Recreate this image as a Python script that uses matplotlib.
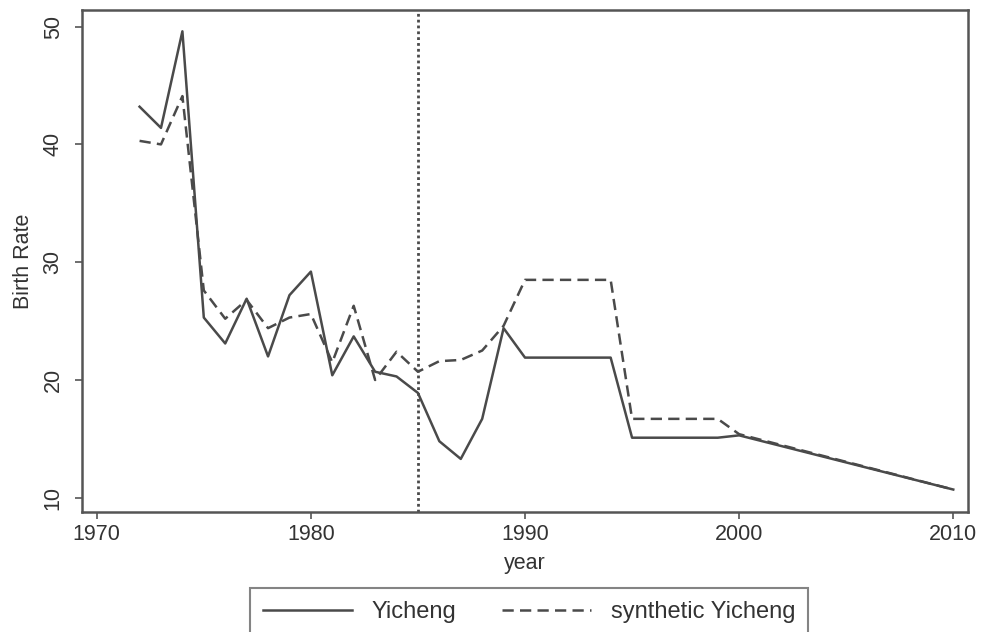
#!/usr/bin/env python3
"""Synthetic control plot: Yicheng birth rate vs synthetic Yicheng."""

import matplotlib
matplotlib.use("Agg")
import matplotlib.pyplot as plt

# ── data ─────────────────────────────────────────────────────────────────────
years_real = [1972, 1973, 1974, 1975, 1976, 1977, 1978, 1979, 1980, 1981,
              1982, 1983, 1984, 1985, 1986, 1987, 1988, 1989, 1990, 1991,
              1992, 1993, 1994, 1995, 1996, 1997, 1998, 1999, 2000, 2010]
yicheng = [43.2, 41.4, 49.6, 25.3, 23.1, 26.9, 22.0, 27.2, 29.2, 20.4,
           23.7, 20.7, 20.3, 18.9, 14.8, 13.3, 16.7, 24.4, 21.9, 21.9,
           21.9, 21.9, 21.9, 15.1, 15.1, 15.1, 15.1, 15.1, 15.3, 10.7]

years_synth = [1972, 1973, 1974, 1975, 1976, 1977, 1978, 1979, 1980, 1981,
               1982, 1983, 1984, 1985, 1986, 1987, 1988, 1989, 1990, 1991,
               1992, 1993, 1994, 1995, 1996, 1997, 1998, 1999, 2000, 2010]
synthetic = [40.3, 40.0, 44.1, 27.6, 25.2, 26.8, 24.4, 25.3, 25.6, 21.5,
             26.3, 20.0, 22.4, 20.7, 21.6, 21.7, 22.5, 24.6, 28.5, 28.5,
             28.5, 28.5, 28.5, 16.7, 16.7, 16.7, 16.7, 16.7, 15.4, 10.7]

treat_year = 1985
xticks = [1970, 1980, 1990, 2000, 2010]
yticks = [10, 20, 30, 40, 50]

LINE = "#4a4a4a"
FRAME = "#555555"
TEXT = "#333333"

plt.rcParams["font.family"] = ["Liberation Sans", "DejaVu Sans"]

fig = plt.figure(figsize=(9.85, 6.32), dpi=100)
ax = fig.add_axes([0.083, 0.19, 0.9, 0.794])

ax.plot(years_real, yicheng, color=LINE, linewidth=1.8, label="Yicheng")
ax.plot(years_synth, synthetic, color=LINE, linewidth=1.8,
        linestyle=(0, (4.5, 2.5)), label="synthetic Yicheng")
ax.axvline(treat_year, color=LINE, linewidth=2.0, linestyle=(0, (1, 1.1)))

ax.set_xlim(1969.3, 2010.7)
ax.set_ylim(8.8, 51.4)
ax.set_xticks(xticks)
ax.set_yticks(yticks)
ax.tick_params(axis="both", direction="out", length=5, width=1.2,
               color=FRAME, labelsize=15.5, labelcolor=TEXT)
ax.tick_params(axis="y", pad=8)
for lbl in ax.get_yticklabels():
    lbl.set_rotation(90)
    lbl.set_va("center")

for sp in ax.spines.values():
    sp.set_color(FRAME)
    sp.set_linewidth(1.8)

ax.set_xlabel("year", fontsize=15.5, color=TEXT, labelpad=6)
ax.set_ylabel("Birth Rate", fontsize=15.5, color=TEXT, labelpad=6)

# legend box sits under the axes, its lower edge running off the figure
leg = fig.legend(loc="upper center", bbox_to_anchor=(0.537, 0.0696),
                 ncol=2, fontsize=17, frameon=True, fancybox=False,
                 handlelength=3.77, handletextpad=0.85, columnspacing=1.9,
                 borderpad=0.55, borderaxespad=0)
leg.get_frame().set_edgecolor("#666666")
leg.get_frame().set_linewidth(1.5)
for t in leg.get_texts():
    t.set_color(TEXT)

fig.savefig("out.png", dpi=100)
